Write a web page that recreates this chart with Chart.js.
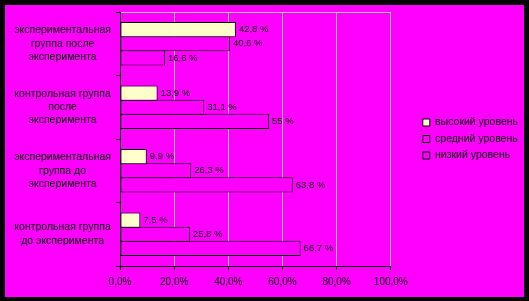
<!DOCTYPE html>
<html>
<head>
<meta charset="utf-8">
<script src="https://cdn.jsdelivr.net/npm/chart.js@4/dist/chart.umd.min.js"></script>
<style>
  html, body { margin: 0; padding: 0; background: #000; }
  #wrap { width: 529px; height: 301px; }
</style>
</head>
<body>
<div id="wrap"><canvas id="levelsChart" width="529" height="301"></canvas></div>
<script>
// categories, top to bottom as in the picture
const categories = [
  ["экспериментальная", "группа после", "эксперимента"],
  ["контрольная группа", "после", "эксперимента"],
  ["экспериментальная", "группа до", "эксперимента"],
  ["контрольная группа", "до эксперимента"]
];
const seriesNames = ["высокий уровень", "средний уровень", "низкий уровень"];
const highLevel = [42.8, 13.9, 9.9, 7.5];
const midLevel = [40.6, 31.1, 26.3, 25.8];
const lowLevel = [16.6, 55, 63.8, 66.7];
const xTicks = [0, 20, 40, 60, 80, 100];

const FONT = "'Liberation Sans', Arial, sans-serif";
const MAGENTA = "#ff00ff";
const GRID = "#c0c0c0";

Chart.defaults.font.family = FONT;
Chart.defaults.font.size = 10;
Chart.defaults.color = "#000";

/* ---- black frame + magenta panel ---- */
const framePlugin = {
  id: "frame",
  beforeDraw(chart) {
    const c = chart.ctx;
    c.save();
    c.fillStyle = "#000";
    c.fillRect(0, 0, chart.width, chart.height);
    c.fillStyle = MAGENTA;
    c.fillRect(5, 5, chart.width - 10, chart.height - 9);
    c.restore();
  }
};

/* ---- value labels at the end of each bar ---- */
const valueLabels = {
  id: "valueLabels",
  afterDatasetsDraw(chart) {
    const c = chart.ctx;
    c.save();
    c.font = "9.5px " + FONT;
    c.fillStyle = "#000";
    c.textBaseline = "middle";
    c.textAlign = "left";
    chart.data.datasets.forEach((ds, i) => {
      chart.getDatasetMeta(i).data.forEach((bar, j) => {
        const txt = String(ds.data[j]).replace(".", ",") + " %";
        c.fillText(txt, bar.x + 3, bar.y);
      });
    });
    c.restore();
  }
};

const ctx = document.getElementById("levelsChart").getContext("2d");

new Chart(ctx, {
  type: "bar",
  data: {
    labels: categories,
    datasets: [
      { label: seriesNames[0], data: highLevel, backgroundColor: "#ffffcc" },
      { label: seriesNames[1], data: midLevel, backgroundColor: MAGENTA },
      { label: seriesNames[2], data: lowLevel, backgroundColor: MAGENTA }
    ].map(d => Object.assign(d, {
      borderColor: "#000",
      borderWidth: 1,
      borderSkipped: false,
      categoryPercentage: 0.67,
      barPercentage: 1.07
    }))
  },
  options: {
    indexAxis: "y",
    responsive: false,
    animation: false,
    layout: {
      padding: { left: 8, top: 12, right: 1, bottom: 7 }
    },
    plugins: {
      tooltip: { enabled: false },
      legend: {
        position: "right",
        fullSize: false,
        maxWidth: 140,
        labels: {
          boxWidth: 7,
          boxHeight: 7,
          padding: 6,
          color: "#000",
          font: { size: 10.5 }
        }
      }
    },
    scales: {
      y: {
        grid: {
          color: (c) => c.index === 0 ? GRID : "transparent",
          tickColor: "#000",
          tickLength: 4
        },
        border: { color: "#000" },
        ticks: {
          color: "#000",
          crossAlign: "center",
          padding: 5,
          font: { size: 10.5, lineHeight: 1.27 }
        },
        afterFit: (s) => {
          s.width = 112;
          s.paddingTop = 0;
          s.paddingBottom = 0;
        }
      },
      x: {
        min: 0,
        max: 100,
        grid: { color: GRID, tickColor: "#000", tickLength: 4 },
        border: { color: "#000" },
        afterBuildTicks: (s) => { s.ticks = xTicks.map(v => ({ value: v })); },
        ticks: {
          color: "#000",
          padding: 6,
          maxRotation: 0,
          callback: (v) => v.toFixed(1).replace(".", ",") + "%"
        }
      },
      // empty spacer between the plot and the legend
      spacer: {
        axis: "y",
        type: "linear",
        position: "right",
        grid: { display: false },
        border: { display: false },
        ticks: { display: false },
        afterFit: (s) => { s.width = 26; }
      }
    }
  },
  plugins: [framePlugin, valueLabels]
});
</script>
</body>
</html>
